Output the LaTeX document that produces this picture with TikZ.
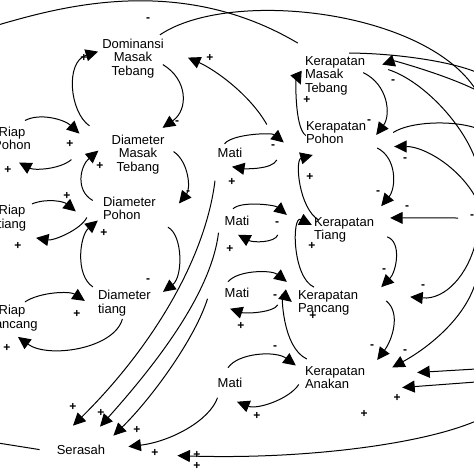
\documentclass[tikz,border=0pt]{standalone}
\usepackage{fontspec}
\setmainfont{Liberation Sans}
\usetikzlibrary{arrows.meta}

\begin{document}
\begin{tikzpicture}[x=1pt,y=-1pt,
    var/.style={font=\fontsize{13}{13.5}\selectfont, align=center, inner sep=2pt},
    varl/.style={var, align=left},
    arr/.style={line width=1pt, -{Triangle[length=12.5pt,width=12pt]}},
    lnk/.style={line width=1pt},
    sgn/.style={font=\bfseries\fontsize{12}{12}\selectfont, inner sep=0pt}]
                % frame of the picture
                \useasboundingbox (0,0) rectangle (474,474);

                % variables, left column
                \node[var] (domMT) at (133,58.6) {Dominansi\\Masak\\Tebang};
                \node[var] (diaMT) at (138,154.6) {Diameter\\Masak\\Tebang};
                \node[varl] (diaP) at (129.4,208.5) {Diameter\\Pohon};
                \node[varl] (diaT) at (124.4,302.9) {Diameter\\tiang};
                \node[var] (riapP) at (12,138.5) {Riap\\Pohon};
                \node[var] (riapT) at (12,217.9) {Riap\\tiang};
                \node[var] (riapPc) at (12,317.9) {Riap\\Pancang};
                \node[var] (serasah) at (81,449.6) {Serasah};

                % variables, middle
                \node[var] (mati1) at (230,152.75) {Mati};
                \node[var] (mati2) at (237,220.75) {Mati};
                \node[var] (mati3) at (237,292.75) {Mati};
                \node[var] (mati4) at (230,382.75) {Mati};

                % variables, right column
                \node[varl] (kerMT) at (335,75.6) {Kerapatan\\Masak\\Tebang};
                \node[varl] (kerP) at (336,132.5) {Kerapatan\\Pohon};
                \node[varl] (kerT) at (344,229.9) {Kerapatan\\Tiang};
                \node[varl] (kerPc) at (328,302.9) {Kerapatan\\Pancang};
                \node[varl] (kerA) at (335,377.5) {Kerapatan\\Anakan};

                % loose ends at the border
                \coordinate (edgeL) at (-2,25);
                \coordinate (edgeQ) at (476,90);
                \coordinate (edgeA) at (476,72);
                \coordinate (edgeB) at (476,161);
                \coordinate (edgeC) at (476,128);
                \coordinate (edgeD) at (476,198);
                \coordinate (edgeE) at (458,218);
                \coordinate (edgeF) at (476,241);
                \coordinate (edgeG) at (476,281);
                \coordinate (edgeH) at (476,369);
                \coordinate (edgeI) at (476,382);
                \coordinate (edgeJ) at (476,421);
                \coordinate (edgeK) at (-2,443);

                % diameter loops
                \draw[arr] ([shift={(-20,-7)}]diaMT.north west) .. controls +(-20,-14) and +(-33,10) .. ([shift={(-2,-7)}]domMT.west);
                \draw[arr] ([shift={(-3,6)}]domMT.east) .. controls +(25,15) and +(26,-18) .. ([shift={(-4,-5)}]diaMT.north east);
                \draw[arr] ([shift={(13,-18)}]riapP.center) .. controls +(15,-8) and +(-15,-14) .. ([shift={(-30,-21)}]diaMT.west);
                \draw[arr] ([shift={(-38,5)}]diaMT.west) .. controls +(-12,10) and +(15,8) .. ([shift={(7,24)}]riapP.center);
                \draw[arr] ([shift={(-8,-8)}]diaP.west) .. controls +(-18,-10) and +(-18,15) .. ([shift={(-11,-4)}]diaMT.west);
                \draw[arr] ([shift={(7,-3)}]diaMT.east) .. controls +(15,10) and +(12,-15) .. ([shift={(21,-5)}]diaP.east);
                \draw[arr] ([shift={(20,-14)}]riapT.center) .. controls +(15,-6) and +(-12,-10) .. ([shift={(-25,3)}]diaP.west);
                \draw[arr] ([shift={(-14,9)}]diaP.west) .. controls +(-6,12) and +(18,3) .. ([shift={(24,20)}]riapT.center);
                \draw[arr] ([shift={(-3,-1)}]diaT.north west) .. controls +(-18,-12) and +(-18,15) .. ([shift={(-3,12)}]diaP.west);
                \draw[arr] ([shift={(10,5)}]diaP.south east) .. controls +(15,8) and +(20,-15) .. ([shift={(10,4)}]diaT.north east);
                \draw[arr] ([shift={(13,-16)}]riapPc.center) .. controls +(15,-10) and +(-15,-10) .. ([shift={(-11,-2)}]diaT.west);
                \draw[arr] ([shift={(-2,1)}]diaT.south) .. controls +(-8,30) and +(30,22) .. ([shift={(6,19)}]riapPc.center);

                % mati loops
                \draw[arr] ([shift={(9,-2)}]mati1.north west) .. controls +(8,-10) and +(-12,-10) .. ([shift={(-20,10)}]kerP.west);
                \draw[arr] ([shift={(-27,14)}]kerP.south west) .. controls +(-5,10) and +(12,2) .. ([shift={(2,7)}]mati1.south);
                \draw[arr] ([shift={(-4,-5)}]mati2.north) .. controls +(8,-8) and +(-12,-10) .. ([shift={(-25,-15)}]kerT.west);
                \draw[arr] ([shift={(-34,5)}]kerT.west) .. controls +(-3,8) and +(15,8) .. ([shift={(1,7)}]mati2.south);
                \draw[arr] ([shift={(-9,-4)}]mati3.north) .. controls +(10,-12) and +(-15,-12) .. ([shift={(-9,-21)}]kerPc.west);
                \draw[arr] ([shift={(-18,2)}]kerPc.west) .. controls +(-5,8) and +(15,5) .. ([shift={(-7,9)}]mati3.south);
                \draw[arr] ([shift={(-2,-8)}]mati4.north) .. controls +(10,-15) and +(-20,-15) .. ([shift={(-7,-12)}]kerA.west);
                \draw[arr] ([shift={(-4,7)}]kerA.west) .. controls +(-10,15) and +(20,8) .. ([shift={(7,12)}]mati4.south);

                % kerapatan loops
                \draw[arr] ([shift={(-4,-3)}]kerMT.east) .. controls +(25,12) and +(15,-20) .. ([shift={(8,16)}]kerP.north east);
                \draw[arr] ([shift={(2,3)}]kerP.west) .. controls +(-12,-8) and +(-5,-12) .. ([shift={(-2,9)}]kerMT.west);
                \draw[arr] ([shift={(9,2)}]kerP.south east) .. controls +(20,10) and +(15,-18) .. ([shift={(5,-9)}]kerT.north east);
                \draw[arr] ([shift={(7,5)}]kerT.north west) .. controls +(-20,-12) and +(-18,5) .. ([shift={(9,9)}]kerP.south west);
                \draw[arr] ([shift={(11,7)}]kerT.east) .. controls +(15,5) and +(15,-15) .. ([shift={(21,-1)}]kerPc.north east);
                \draw[arr] ([shift={(-14,-1)}]kerPc.north) .. controls +(-22,-10) and +(-20,-10) .. ([shift={(0,-5)}]kerT.west);
                \draw[arr] ([shift={(26,-2)}]kerPc.east) .. controls +(15,12) and +(15,-20) .. ([shift={(10,-4)}]kerA.north east);
                \draw[arr] ([shift={(4,-5)}]kerA.north west) .. controls +(-25,-12) and +(-10,-8) .. ([shift={(-4,-1)}]kerPc.west);

                % links over the top and off the right side
                \draw[lnk] (edgeQ) .. controls +(-51,-80) and +(70,-47) .. ([shift={(-6,-2)}]domMT.north east);
                \draw[lnk] (edgeL) .. controls +(62,-18) and +(-118,-70) .. ([shift={(-5,-11)}]kerMT.north west);
                \draw[lnk] ([shift={(14,-1)}]kerMT.north) .. controls +(40,0) and +(-30,-12) .. (edgeA);
                \draw[arr] (edgeQ) .. controls +(-30,-15) and +(12,-4) .. ([shift={(15,-11)}]kerMT.east);
                \draw[lnk] ([shift={(21,-6)}]kerMT.east) .. controls +(32,10) and +(-14,-40) .. (edgeB);
                \draw[lnk] ([shift={(25,0)}]kerP.east) .. controls +(17,-11) and +(-24,-8) .. (edgeC);
                \draw[arr] (edgeD) .. controls +(-17,-31) and +(30,0) .. ([shift={(26,14)}]kerP.east);
                \draw[arr] (edgeE) -- ([shift={(14,-12)}]kerT.east);
                \draw[arr] (edgeF) .. controls +(-8,34) and +(35,3) .. ([shift={(50,-6)}]kerPc.east);
                \draw[arr] (edgeG) .. controls +(-11,39) and +(33,-18) .. ([shift={(25,-10)}]kerA.east);
                \draw[arr] (edgeH) -- ([shift={(50,-5)}]kerA.east);
                \draw[arr] (edgeI) -- ([shift={(35,10)}]kerA.east);
                \draw[arr] (edgeJ) .. controls +(-56,24) and +(123,4) .. ([shift={(70,6)}]serasah.east);
                \draw[lnk] (edgeK) -- ([shift={(-15,0)}]serasah.west);
                \draw[arr] ([shift={(-37,-8)}]kerP.west) .. controls +(-17,-30) and +(27,12) .. ([shift={(22,-1)}]domMT.east);

                % mati into serasah
                \draw[arr] ([shift={(-15,21)}]mati1.south) .. controls +(-10,80) and +(77,-76) .. ([shift={(-8,-17)}]serasah.north);
                \draw[arr] ([shift={(-4,5)}]mati2.south west) .. controls +(-7,58) and +(60,-67) .. ([shift={(19,-16)}]serasah.north);
                \draw[arr] ([shift={(-15,6)}]mati3.west) .. controls +(-13,41) and +(37,-36) .. ([shift={(6,-7)}]serasah.north east);
                \draw[arr] ([shift={(2,8)}]mati4.south west) .. controls +(-8,23) and +(42,-5) .. ([shift={(21,-3)}]serasah.east);

                % polarity signs
                \foreach \x/\y [count=\i] in {84/58, 70/144, 8/170, 100/166, 67/196, 18/246, 104/233, 77/314, 7/348, 210/58, 232/182, 230/249, 241/326, 257/416, 307/100, 310/177, 312/246, 313/316, 73/407, 101/413, 137/430, 155/453, 197/455, 197/466, 364/414, 397/398}
                    \node[sgn] (plus\i) at (\x,\y) {+};
                \foreach \x/\y [count=\i] in {148/20, 177/123, 188/193, 148/281, 273/147, 277/224, 275/297, 275/348, 369/122, 393/82, 378/193, 405/160, 384/271, 407/208, 472/217, 372/347, 423/287, 405/352}
                    \node[sgn] (minus\i) at (\x,\y) {-};

            \end{tikzpicture}
\end{document}
